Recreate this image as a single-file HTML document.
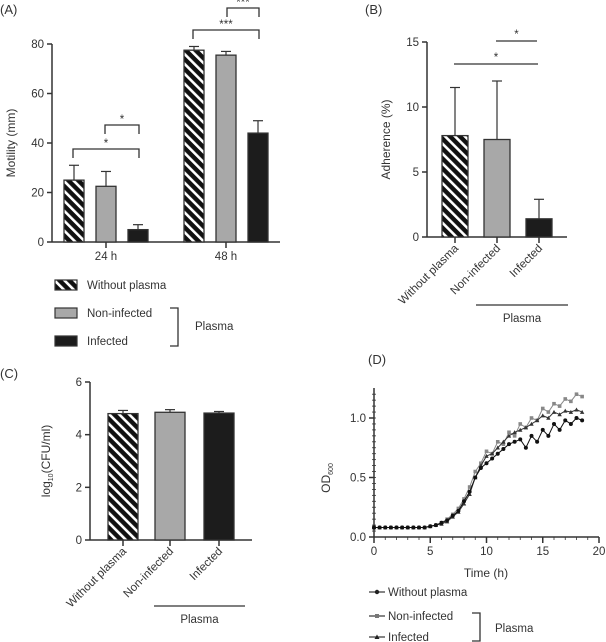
<!DOCTYPE html>
<html><head><meta charset="utf-8"><style>
body{margin:0;background:#fff}
svg{display:block;font-family:"Liberation Sans",sans-serif;fill:#333}
text{fill:#333}
</style></head><body>
<svg id="fig" width="606" height="642" viewBox="0 0 606 642" xmlns="http://www.w3.org/2000/svg">
<defs>
<pattern id="hatch" patternUnits="userSpaceOnUse" width="7" height="7" patternTransform="rotate(-45)">
<rect width="7" height="7" fill="#111"/><rect x="0" y="0" width="2.6" height="7" fill="#fff"/>
</pattern>
</defs>
<g id="A"></g>
<g id="B"></g>
<g id="C"></g>
<g id="D"></g>
</svg>
<script>
// Panel A data
const aGroups = ["24 h", "48  h"];
const aWithout = [25, 77.5];
const aNonInf = [22.5, 75.5];
const aInf = [5, 44];
const aWithoutErr = [6, 1.5];
const aNonInfErr = [6, 1.5];
const aInfErr = [2, 5];
const aTicks = [0, 20, 40, 60, 80];
// Panel B data
const bCats = ["Without plasma", "Non-infected", "Infected"];
const bVals = [7.8, 7.5, 1.4];
const bErr = [3.7, 4.5, 1.5];
const bTicks = [0, 5, 10, 15];
// Panel C data
const cCats = ["Without plasma", "Non-infected", "Infected"];
const cVals = [4.8, 4.85, 4.82];
const cErr = [0.12, 0.1, 0.06];
const cTicks = [0, 2, 4, 6];
// Panel D data
const dTime = [0,0.5,1,1.5,2,2.5,3,3.5,4,4.5,5,5.5,6,6.5,7,7.5,8,8.5,9,9.5,10,10.5,11,11.5,12,12.5,13,13.5,14,14.5,15,15.5,16,16.5,17,17.5,18,18.5];
const dWithout = [0.08,0.08,0.08,0.08,0.08,0.08,0.08,0.08,0.08,0.08,0.09,0.1,0.12,0.14,0.18,0.22,0.3,0.38,0.5,0.58,0.62,0.66,0.7,0.74,0.78,0.8,0.82,0.75,0.85,0.8,0.9,0.85,0.95,0.9,0.98,0.95,1.0,0.98];
const dNonInf = [0.08,0.08,0.08,0.08,0.08,0.08,0.08,0.08,0.08,0.08,0.09,0.1,0.12,0.15,0.19,0.24,0.32,0.42,0.55,0.62,0.72,0.7,0.8,0.78,0.88,0.85,0.95,0.92,1.0,0.98,1.08,1.05,1.12,1.1,1.16,1.14,1.2,1.18];
const dInf = [0.08,0.08,0.08,0.08,0.08,0.08,0.08,0.08,0.08,0.08,0.09,0.1,0.11,0.13,0.17,0.21,0.28,0.36,0.5,0.6,0.68,0.7,0.75,0.8,0.85,0.88,0.9,0.92,0.95,0.98,1.02,1.0,1.05,1.03,1.06,1.05,1.07,1.05];
const dXTicks = [0, 5, 10, 15, 20];
const dYTicks = [0.0, 0.5, 1.0];

const NS="http://www.w3.org/2000/svg";
function mk(parent, tag, attrs, txt){const e=document.createElementNS(NS,tag);for(const k in attrs)e.setAttribute(k,attrs[k]);if(txt!==undefined)e.textContent=txt;parent.appendChild(e);return e;}
const STROKE="#333";
const FS=11.5;
const fills=["url(#hatch)","#a8a8a8","#1c1c1c"];

function line(p,x1,y1,x2,y2,w){return mk(p,"line",{x1,y1,x2,y2,stroke:STROKE,"stroke-width":w||1.5});}
function bar(p,x,w,y0,y,fill,err,name){
  const r=mk(p,"rect",{x,y,width:w,height:y0-y,fill,stroke:STROKE,"stroke-width":1.3});
  
  
  const cx=x+w/2;
  line(p,cx,y,cx,err,1.2);line(p,cx-5,err,cx+5,err,1.2);
}

// ---------- Panel A ----------
(function(){
 const g=document.getElementById("A");
 const X0=52,Y0=242,Y80=44,XE=280;
 const y=v=>Y0-(v/80)*(Y0-Y80);
 mk(g,"text",{x:0,y:14,"font-size":13},"(A)");
 line(g,X0,Y80,X0,Y0);line(g,X0,Y0,XE,Y0);
 aTicks.forEach(t=>{line(g,X0-5,y(t),X0,y(t));mk(g,"text",{x:X0-8,y:y(t)+4,"font-size":FS,"text-anchor":"end"},t);});
 const yt=mk(g,"text",{x:0,y:0,"font-size":12,"text-anchor":"middle",transform:`translate(15,${(Y0+Y80)/2}) rotate(-90)`},"Motility (mm)");
 
 const starts=[64,184],bw=20,gap=32;
 aGroups.forEach((gn,i)=>{
  const s=starts[i];
  bar(g,s,bw,Y0,y(aWithout[i]),fills[0],y(aWithout[i]+aWithoutErr[i]),"bar-without-"+i);
  bar(g,s+gap,bw,Y0,y(aNonInf[i]),fills[1],y(aNonInf[i]+aNonInfErr[i]),"bar-noninfected-"+i);
  bar(g,s+2*gap,bw,Y0,y(aInf[i]),fills[2],y(aInf[i]+aInfErr[i]),"bar-infected-"+i);
  const cx=s+gap+bw/2;line(g,cx,Y0,cx,Y0+6);
  mk(g,"text",{x:cx,y:Y0+18,"font-size":FS,"text-anchor":"middle"},gn);
 });
 function br(x1,x2,yy,lab){mk(g,"path",{d:`M${x1} ${yy+9}V${yy}H${x2}V${yy+9}`,fill:"none",stroke:STROKE,"stroke-width":1.3});mk(g,"text",{x:(x1+x2)/2,y:yy-2,"font-size":FS,"text-anchor":"middle"},lab);}
 br(105,139,125,"*");br(73,139,149,"*");br(227,259,8,"***");br(193,259,30,"***");
 const leg=[["Without plasma",285],["Non-infected",313],["Infected",341]];
 leg.forEach((l,i)=>{const r=mk(g,"rect",{x:55,y:l[1]-5,width:22,height:10,fill:fills[i],stroke:STROKE,"stroke-width":1.2});
  
  mk(g,"text",{x:87,y:l[1]+4,"font-size":FS},l[0]);});
 mk(g,"path",{d:"M170 308H178V346H170",fill:"none",stroke:STROKE,"stroke-width":1.3});
 mk(g,"text",{x:195,y:330,"font-size":FS},"Plasma");
})();

// generic category bar panel
function catPanel(id,lab,labX,labY,X0,Y0,Ytop,XE,ymax,ticks,cats,vals,errs,starts,bw,ytitle,ytx,plasma,sigs){
 const g=document.getElementById(id);
 const y=v=>Y0-(v/ymax)*(Y0-Ytop);
 mk(g,"text",{x:labX,y:labY,"font-size":13},lab);
 line(g,X0,Ytop,X0,Y0);line(g,X0,Y0,XE,Y0);
 ticks.forEach(t=>{line(g,X0-5,y(t),X0,y(t));mk(g,"text",{x:X0-8,y:y(t)+4,"font-size":FS,"text-anchor":"end"},t);});
 const yt=mk(g,"text",{x:0,y:0,"font-size":12,"text-anchor":"middle",transform:`translate(${ytx},${(Y0+Ytop)/2}) rotate(-90)`});
 yt.innerHTML=ytitle;
 
 cats.forEach((c,i)=>{
  bar(g,starts[i],bw,Y0,y(vals[i]),fills[i],y(vals[i]+errs[i]),"bar-"+c.toLowerCase().replace(/ /g,'-'));
  const cx=starts[i]+bw/2;line(g,cx,Y0,cx,Y0+6);
  mk(g,"text",{x:0,y:0,"font-size":FS,"text-anchor":"end",transform:`translate(${cx+4},${Y0+12}) rotate(-45)`},c);
 });
 line(g,plasma[0],plasma[2],plasma[1],plasma[2],1.3);
 mk(g,"text",{x:(plasma[0]+plasma[1])/2,y:plasma[2]+17,"font-size":FS,"text-anchor":"middle"},"Plasma");
 (sigs||[]).forEach(s=>{line(g,s[0],s[2],s[1],s[2],1.3);mk(g,"text",{x:(s[0]+s[1])/2,y:s[2]-3,"font-size":FS,"text-anchor":"middle"},"*");});
}
catPanel("B","(B)",365,14,427,237,42,567,15,bTicks,bCats,bVals,bErr,[442,484,526],26,"Adherence (%)",390,[476,568,305],[[496,537,41],[454,538,64]]);
catPanel("C","(C)",0,378,90,540,382,252,6,cTicks,cCats,cVals,cErr,[108,155,204],30,'log<tspan font-size="7" dy="3">10</tspan><tspan dy="-3">(CFU/ml)</tspan>',50,[154,245,606]);

// ---------- Panel D ----------
(function(){
 const g=document.getElementById("D");
 const X0=374,X20=599,Y0=537,Y1=418;
 const x=t=>X0+t/20*(X20-X0), y=v=>Y0-v*(Y0-Y1);
 mk(g,"text",{x:368,y:364,"font-size":13},"(D)");
 line(g,X0,388,X0,Y0);line(g,X0,Y0,X20,Y0);
 for(let v=0;v<=1.25;v+=0.05)line(g,X0-2,y(v),X0+2,y(v),0.8);
 dYTicks.forEach(t=>{line(g,X0-5,y(t),X0,y(t));mk(g,"text",{x:X0-8,y:y(t)+4,"font-size":FS,"text-anchor":"end"},t.toFixed(1));});
 for(let t=0;t<=20;t+=1)line(g,x(t),Y0,x(t),Y0+3,0.8);
 dXTicks.forEach(t=>{line(g,x(t),Y0,x(t),Y0+6);mk(g,"text",{x:x(t),y:Y0+18,"font-size":FS,"text-anchor":"middle"},t);});
 mk(g,"text",{x:486,y:577,"font-size":12,"text-anchor":"middle"},"Time (h)");
 const yt=mk(g,"text",{x:0,y:0,"font-size":12,"text-anchor":"middle",transform:`translate(330,478) rotate(-90)`});
 yt.innerHTML='OD<tspan font-size="7" dy="3">600</tspan>';
 
 const series=[[dNonInf,"#888","sq","line-non-infected"],[dInf,"#333","tri","line-infected"],[dWithout,"#111","circ","line-without-plasma"]];
 series.forEach(s=>{
  const p=mk(g,"polyline",{points:dTime.map((t,i)=>x(t)+","+y(s[0][i])).join(" "),fill:"none",stroke:s[1],"stroke-width":1});
  
  
  dTime.forEach((t,i)=>{
   const cx=x(t),cy=y(s[0][i]);
   if(s[2]=="circ")mk(g,"circle",{cx,cy,r:2,fill:s[1]});
   else if(s[2]=="sq")mk(g,"rect",{x:cx-1.8,y:cy-1.8,width:3.6,height:3.6,fill:s[1]});
   else mk(g,"path",{d:`M${cx} ${cy-2.2}L${cx+2.2} ${cy+1.8}L${cx-2.2} ${cy+1.8}Z`,fill:s[1]});
  });
 });
 const leg=[["Without plasma",592,"circ"],["Non-infected",616,"sq"],["Infected",637,"tri"]];
 leg.forEach(l=>{line(g,369,l[1],385,l[1],1.2);
  if(l[2]=="circ")mk(g,"circle",{cx:377,cy:l[1],r:2.2,fill:"#222"});
  else if(l[2]=="sq")mk(g,"rect",{x:375,y:l[1]-2,width:4,height:4,fill:"#777"});
  else mk(g,"path",{d:`M377 ${l[1]-2.5}L379.5 ${l[1]+2}L374.5 ${l[1]+2}Z`,fill:"#222"});
  mk(g,"text",{x:388,y:l[1]+4,"font-size":FS},l[0]);});
 mk(g,"path",{d:"M472 613H480V641H472",fill:"none",stroke:STROKE,"stroke-width":1.3});
 mk(g,"text",{x:495,y:632,"font-size":FS},"Plasma");
})();
</script>
</body></html>
